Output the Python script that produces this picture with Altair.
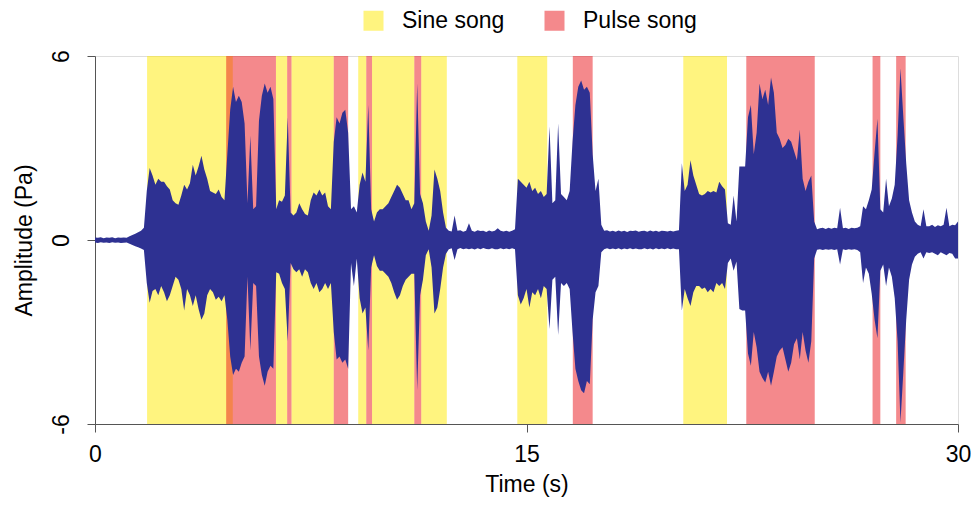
import altair as alt
import pandas as pd

# ---- song annotation bands (seconds) ----
sine_start = [1.81, 6.29, 6.83, 9.15, 9.63, 11.34, 14.68, 20.45]
sine_end = [4.79, 6.68, 8.30, 9.43, 11.10, 12.23, 15.72, 21.97]
pulse_start = [4.56, 6.68, 8.30, 9.43, 11.10, 16.61, 22.64, 27.03, 27.85]
pulse_end = [6.29, 6.83, 8.80, 9.63, 11.34, 17.30, 25.02, 27.30, 28.18]

# ---- waveform envelope, one value per 0.1 s from 0 to 30 s ----
sample_step = 0.1
upper = [
    0.08, 0.07, 0.09, 0.06, 0.08, 0.07, 0.09, 0.06, 0.08, 0.07,
    0.08, 0.07, 0.12, 0.16, 0.2, 0.25, 0.3, 0.4, 1.6, 2.35,
    2.1, 1.8, 2.0, 1.9, 1.9, 1.75, 1.65, 1.3, 1.2, 1.15,
    1.45, 1.8, 1.65, 1.85, 2.45, 2.1, 2.4, 2.75, 2.3, 2.0,
    1.6, 1.55, 1.5, 1.65, 1.4, 1.3, 2.8, 4.25, 5.0, 4.5,
    4.7, 4.5, 3.8, 1.2, 3.4, 1.0, 1.1, 3.9, 4.7, 5.1,
    4.8, 5.0, 4.6, 1.0, 1.3, 1.25, 1.45, 4.0, 0.9, 0.8,
    0.9, 1.2, 1.0, 0.85, 0.8, 1.3, 1.55, 1.45, 1.65, 1.45,
    1.55, 1.1, 1.0, 3.2, 4.0, 3.8, 4.15, 4.25, 3.5, 1.0,
    1.1, 0.9, 1.8, 2.2, 1.9, 4.4, 1.0, 0.6, 0.9, 1.0,
    1.0, 1.1, 1.2, 1.4, 1.6, 1.8, 1.7, 1.5, 1.3, 1.3,
    1.0, 1.2, 5.1, 1.5, 1.2, 0.6, 0.3, 0.8, 2.3, 2.0,
    1.6, 0.9, 0.4, 0.3, 0.28, 0.8, 0.3, 0.32, 0.27, 0.3,
    0.55, 0.3, 0.27, 0.32, 0.29, 0.3, 0.26, 0.31, 0.28, 0.3,
    0.38, 0.3, 0.28, 0.3, 0.27, 0.3, 0.35, 2.0, 1.9, 1.8,
    1.7, 1.9, 1.6, 1.7, 1.5, 1.6, 1.4, 1.5, 3.7, 1.2,
    1.3, 3.8, 1.5, 1.4, 1.3, 1.6, 3.2, 4.4, 5.0, 5.2,
    4.9, 5.0, 4.8, 2.8, 1.6, 2.0, 0.5, 0.3, 0.32, 0.28,
    0.3, 0.27, 0.31, 0.28, 0.3, 0.26, 0.3, 0.29, 0.31, 0.27,
    0.29, 0.3, 0.27, 0.31, 0.28, 0.3, 0.27, 0.3, 0.29, 0.28,
    0.3, 0.28, 0.3, 0.32, 2.5, 1.6, 1.8, 2.6, 2.1, 1.8,
    1.5, 1.45, 1.5, 1.6, 1.55, 1.6, 1.55, 1.9, 1.75, 1.65,
    0.55, 0.5, 1.45, 0.6, 2.4, 2.4, 2.4, 4.0, 4.4, 2.8,
    3.5, 5.1, 4.6, 4.9, 4.4, 5.3, 4.8, 3.5, 3.3, 3.0,
    3.1, 3.3, 3.2, 2.9, 2.6, 3.6, 2.0, 1.6, 1.9, 2.1,
    0.6, 0.35, 0.38, 0.4, 0.36, 0.4, 0.37, 0.4, 0.38, 1.05,
    0.38, 0.4, 0.36, 0.4, 0.38, 0.4, 0.45, 1.1, 1.0, 1.3,
    1.65, 2.85, 3.95, 1.0, 0.9, 2.0, 1.1, 1.35, 1.8, 3.4,
    5.6, 4.0, 2.5, 1.3, 0.9, 0.6, 0.5, 0.45, 1.0, 0.45,
    0.45, 0.5, 0.42, 0.48, 0.45, 0.5, 1.05, 0.45, 0.5, 0.48,
    0.6,
]
lower = [
    -0.08, -0.1, -0.07, -0.09, -0.08, -0.1, -0.07, -0.09, -0.08, -0.1,
    -0.09, -0.08, -0.12, -0.16, -0.2, -0.24, -0.28, -0.33, -1.4, -2.05,
    -1.66, -1.6, -1.8, -1.5, -1.7, -2.0, -1.8, -1.5, -1.2, -1.3,
    -1.6, -2.3, -1.6, -1.8, -2.15, -1.8, -2.25, -2.6, -2.4, -1.8,
    -1.6, -1.7, -1.95, -1.85, -2.0, -1.8, -2.6, -3.8, -4.4, -4.2,
    -4.3, -4.0, -3.8, -1.2, -3.6, -1.4, -1.5, -3.8, -4.4, -4.75,
    -4.3, -4.1, -4.2, -1.05, -1.1, -1.4, -1.6, -3.3, -0.75, -0.95,
    -1.05, -0.95, -1.2, -0.95, -1.05, -1.4, -1.6, -1.4, -1.7, -1.6,
    -1.4, -1.6, -1.4, -3.0, -3.9, -3.8, -4.0, -3.9, -4.2, -0.75,
    -1.5, -0.6, -1.9, -2.4, -2.2, -3.6, -0.9, -0.5, -0.85, -1.0,
    -1.0, -1.1, -1.2, -1.4, -1.7, -1.95, -1.8, -1.5, -1.3, -1.2,
    -1.1, -1.1, -4.9, -1.8, -1.3, -0.5, -0.3, -0.9, -2.4, -2.2,
    -1.6, -0.9, -0.45, -0.3, -0.27, -0.65, -0.3, -0.26, -0.3, -0.28,
    -0.3, -0.28, -0.31, -0.27, -0.3, -0.26, -0.29, -0.3, -0.27, -0.3,
    -0.3, -0.27, -0.3, -0.28, -0.3, -0.27, -0.3, -1.8, -2.1, -1.9,
    -1.6, -2.2, -1.7, -1.8, -1.6, -1.9, -1.5, -1.6, -2.9, -1.3,
    -1.2, -3.1, -1.4, -1.5, -1.4, -1.6, -3.0, -4.2, -4.6, -4.9,
    -5.0, -4.6, -4.7, -2.6, -1.7, -1.5, -0.4, -0.3, -0.27, -0.3,
    -0.28, -0.3, -0.27, -0.31, -0.28, -0.3, -0.27, -0.3, -0.28, -0.3,
    -0.3, -0.27, -0.3, -0.28, -0.31, -0.27, -0.3, -0.28, -0.3, -0.27,
    -0.3, -0.28, -0.3, -0.3, -2.3, -1.6, -1.9, -2.15, -1.7, -1.5,
    -1.5, -1.6, -1.55, -1.7, -1.6, -1.7, -1.4, -1.5, -1.4, -1.6,
    -0.75, -0.6, -1.0, -0.7, -2.25, -2.3, -2.3, -3.7, -4.1, -3.0,
    -3.5, -4.3, -4.5, -4.65, -4.3, -4.75, -4.3, -3.8, -3.6, -3.5,
    -3.9, -4.3, -4.0, -3.4, -3.2, -3.9, -3.0, -3.6, -4.0, -3.3,
    -0.6, -0.32, -0.3, -0.33, -0.3, -0.32, -0.3, -0.33, -0.3, -0.8,
    -0.3, -0.33, -0.3, -0.32, -0.3, -0.33, -0.4, -1.4, -0.9, -1.1,
    -1.75, -2.6, -3.2, -1.0, -0.8, -1.5, -0.9, -1.2, -1.9, -3.3,
    -5.95, -4.3, -2.6, -1.3, -0.8, -0.55, -0.45, -0.4, -0.6, -0.4,
    -0.42, -0.4, -0.45, -0.5, -0.4, -0.45, -0.5, -0.42, -0.45, -0.6,
    -0.6,
]

x_ticks = [0, 15, 30]
y_ticks = [-6, 0, 6]
song_types = ["Sine song", "Pulse song"]
song_colors = ["#FFE900", "#E91319"]
wave_color = "#2E3192"
FONT = "Liberation Sans"

band_df = pd.DataFrame(
    {
        "start": sine_start + pulse_start,
        "end": sine_end + pulse_end,
        "type": ["Sine song"] * len(sine_start) + ["Pulse song"] * len(pulse_start),
    }
)
wave_df = pd.DataFrame(
    {
        "t": [round(i * sample_step, 2) for i in range(len(upper))],
        "upper": upper,
        "lower": lower,
    }
)

x_scale = alt.Scale(domain=[0, 30], nice=False, zero=False)
y_scale = alt.Scale(domain=[-6, 6], nice=False, zero=False)

x_axis = alt.Axis(
    values=x_ticks,
    title="Time (s)",
    grid=False,
    tickSize=8,
    labelPadding=11,
    titlePadding=7,
    labelFontSize=23,
    titleFontSize=23,
    labelFont=FONT,
    titleFont=FONT,
    titleFontWeight="normal",
    labelColor="#000000",
    titleColor="#000000",
    domainColor="#555555",
    tickColor="#555555",
    labelFlush=False,
    labelExpr="toString(datum.value)",
)
y_axis = alt.Axis(
    values=y_ticks,
    title="Amplitude (Pa)",
    grid=False,
    tickSize=8,
    labelAngle=270,
    labelAlign="center",
    labelBaseline="bottom",
    labelPadding=14,
    titlePadding=14,
    labelFontSize=23,
    titleFontSize=23,
    labelFont=FONT,
    titleFont=FONT,
    titleFontWeight="normal",
    labelColor="#000000",
    titleColor="#000000",
    domainColor="#555555",
    tickColor="#555555",
    labelFlush=False,
    labelExpr="toString(datum.value)",
)

bands = (
    alt.Chart(band_df)
    .mark_rect(opacity=0.5)
    .encode(
        x=alt.X("start:Q", scale=x_scale, axis=x_axis),
        x2="end:Q",
        color=alt.Color(
            "type:N",
            scale=alt.Scale(domain=song_types, range=song_colors),
            legend=alt.Legend(
                title=None,
                orient="none",
                direction="horizontal",
                legendX=267,
                legendY=-47,
                symbolType="square",
                symbolSize=400,
                symbolStrokeWidth=0,
                labelFontSize=23,
                labelFont=FONT,
                labelColor="#000000",
                labelOffset=17,
                columnPadding=38,
                padding=0,
            ),
        ),
    )
)

wave = (
    alt.Chart(wave_df)
    .mark_area(color=wave_color, interpolate="linear")
    .encode(
        x=alt.X("t:Q", scale=x_scale, axis=x_axis),
        y=alt.Y("upper:Q", scale=y_scale, axis=y_axis),
        y2="lower:Q",
    )
)

chart = (
    alt.layer(bands, wave)
    .properties(
        width=863,
        height=368,
        autosize=alt.AutoSizeParams(type="none"),
        padding={"left": 87, "top": 48, "right": 13, "bottom": 73},
    )
    .configure_view(stroke=None)
    .configure(background="white")
)

chart.save("out.html", embed_options={"renderer": "svg", "actions": False})
